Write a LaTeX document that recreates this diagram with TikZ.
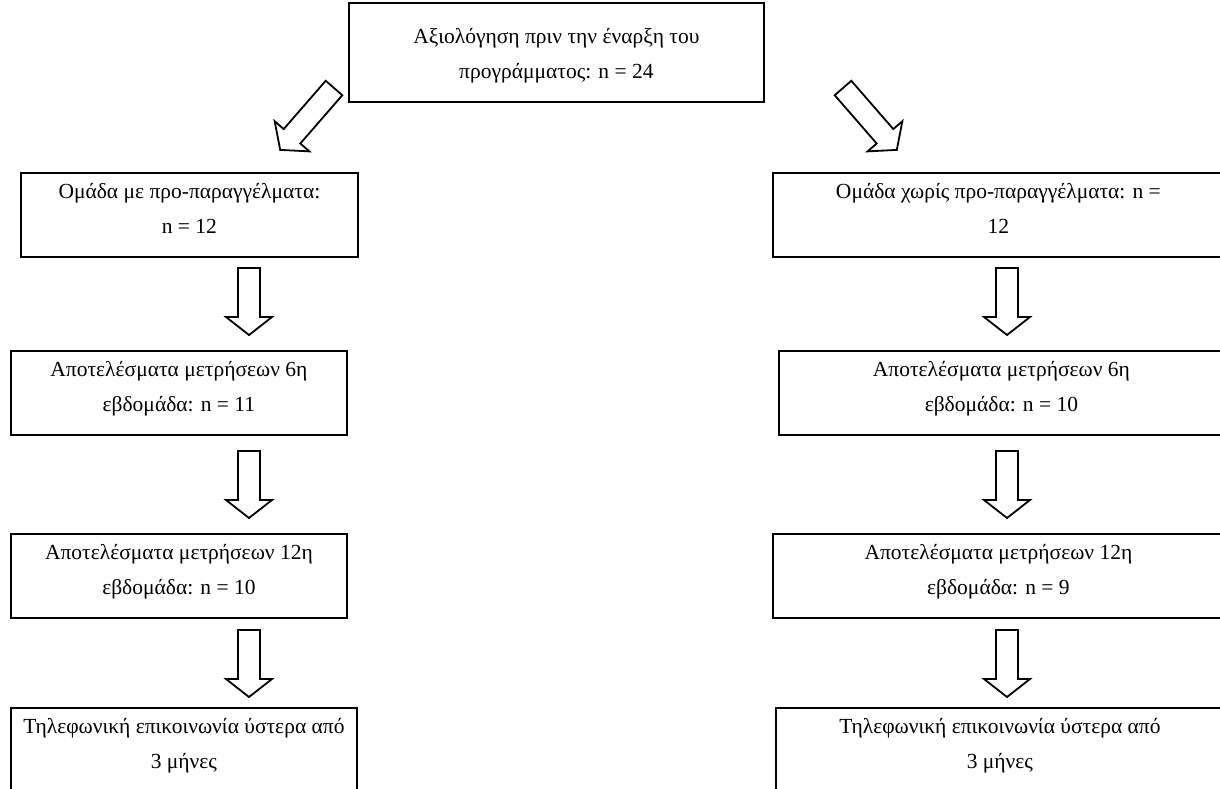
\documentclass[tikz,border=0pt]{standalone}
\usepackage{fontspec}
\setmainfont{Liberation Serif}
\usetikzlibrary{positioning, calc}

\tikzset{
  stagebox/.style={draw, line width=1.8pt, align=center, inner sep=0pt, anchor=north west,
    text height=#1, text depth=23, font=\fontsize{21.5}{35}\selectfont},
  stagebox/.default=61,
  pics/blockarrow/.style={code={
    \draw[line width=1.8pt, line join=miter, fill=white]
      (-11,0) -- (-11,#1-18) -- (-23,#1-18) -- (0,#1) -- (23,#1-18) -- (11,#1-18) -- (11,0) -- cycle;
  }}
}

\begin{document}
\begin{tikzpicture}[x=1pt, y=-1pt]
  \useasboundingbox (0,0) rectangle (1220,789);

  % start
  \node[stagebox=76, minimum width=415] (start) at (348,2)
    {Αξιολόγηση πριν την έναρξη του\\προγράμματος: n = 24};

  % left branch
  \node[stagebox, minimum width=337] (cue) at (20,172)
    {Ομάδα με προ-παραγγέλματα:\\n = 12};
  \node[stagebox, minimum width=336] (cueA) at (10,350)
    {Αποτελέσματα μετρήσεων 6η\\εβδομάδα: n = 11};
  \node[stagebox, minimum width=336] (cueB) at (10,533)
    {Αποτελέσματα μετρήσεων 12η\\εβδομάδα: n = 10};
  \node[stagebox, minimum width=346] (cueC) at (10,707)
    {Τηλεφωνική επικοινωνία ύστερα από\\3 μήνες};

  % right branch
  \node[stagebox, minimum width=451] (nocue) at (772,172)
    {Ομάδα χωρίς προ-παραγγέλματα: n =\\12};
  \node[stagebox, minimum width=445] (nocueA) at (778,350)
    {Αποτελέσματα μετρήσεων 6η\\εβδομάδα: n = 10};
  \node[stagebox, minimum width=451] (nocueB) at (772,533)
    {Αποτελέσματα μετρήσεων 12η\\εβδομάδα: n = 9};
  \node[stagebox, minimum width=448] (nocueC) at (775,707)
    {Τηλεφωνική επικοινωνία ύστερα από\\3 μήνες};

  % arrows
  \pic[rotate=-41] at (334,88) {blockarrow=82};
  \pic[rotate=41] at (843,88) {blockarrow=82};
  \foreach \y in {268,451,630} {
    \pic at (249,\y) {blockarrow=67};
    \pic at (1007,\y) {blockarrow=67};
  }
\end{tikzpicture}
\end{document}
